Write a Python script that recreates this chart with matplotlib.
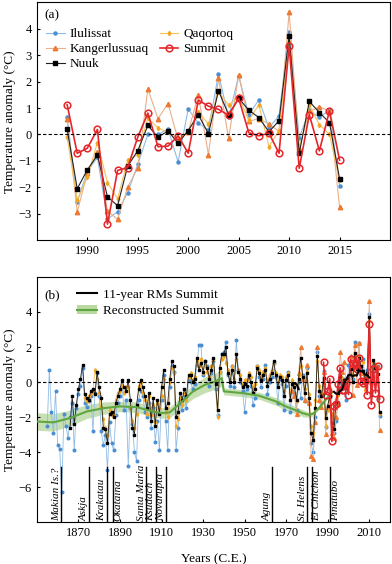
import numpy as np
import matplotlib
matplotlib.use("Agg")
import matplotlib.pyplot as plt
from matplotlib.patches import Patch
from matplotlib.lines import Line2D

plt.rcParams['font.family'] = ['Liberation Serif', 'DejaVu Serif']
plt.rcParams['font.size'] = 9

# ---- station records (annual temperature anomaly, degC) ----
ilu_start = 1855
ilulissat = [
    -2.5, 0.7, -1.7, -2.9, -0.5,
    -3.6, -3.8, -6.3, -1.8, -2.5, -3.2, -2.0, -1.2, -3.9, -1.5,
    -0.7, -0.2, 0.8, -1.2, -1.4, -1.1, -0.8, -2.8, -0.6, 0.5,
    -0.8, -2.8, -3.6, -3.0, -5.0, -2.3, -3.5, -3.9, -1.9, -1.2,
    -0.8, -0.3, -1.6, -1.0, -4.8, -1.5, -2.4, -4.0, -4.5, -1.0,
    -0.5, -0.8, -1.7, -2.0, -1.2, -2.6, -1.4, -3.4, -2.2, -3.9,
    -1.0, 0.4, -2.2, -3.9, -0.3, 0.9, 0.6, -3.9, -2.6, -1.2,
    -1.6, -0.8, -1.5, 0.1, 0.0, -0.4, -0.1, 1.0, 2.1, 2.1,
    0.4, 1.2, 0.9, -0.2, 0.5, 1.2, -0.4, -1.9, 0.6, 1.6,
    1.7, 2.3, 0.4, -0.2, 0.9, -0.3, 2.4, 0.7, 0.0, -0.5,
    -1.7, -0.4, 0.3, -0.2, -1.3, -0.9, 0.9, 0.3, -0.3, 0.2,
    1.0, -0.7, 0.0, 0.3, 1.1, 0.3, -1.2, 0.2, -0.1, -1.6,
    -0.2, 0.6, -1.7, -0.5, -0.6, -1.6, 0.0, -0.9, 0.4, -1.1,
    0.8, -1.2, -3.5, -4.0, -2.0, 1.7, -0.8, -1.2,
    0.66, -2.55, -1.4, -0.86, -3.2, -2.92, -2.2, -1.13, 0.0, 0.0,
    0.2, -1.04, 0.97, 0.42, 0.18, 2.29, 0.65, 2.22, 0.75, 1.31,
    0.25, 0.71, 3.87, -0.12, 0.91, 0.65, 0.92, -1.93]

nuuk_start = 1866
nuuk = [
    -2.6, -0.8, -2.4, -1.3,
    -0.4, 0.2, 1.0, -0.7, -0.9, -1.0, -0.5, -0.4, -0.7, 0.6,
    -0.3, -0.9, -2.6, -2.7, -3.5, -1.8, -1.7, -2.0, -1.2, -0.8,
    -0.4, 0.1, -0.3, -0.5, 0.1, -1.0, -2.6, -3.0, -1.3, -0.4,
    0.1, -0.3, -0.8, -1.5, -0.6, -2.2, -0.9, -2.5, -1.0, -1.8,
    -0.3, 0.7, -1.5, -1.2, 0.2, 1.2, 0.9, -2.0, -1.7, -0.6,
    -1.0, -0.4, -0.8, 0.4, 0.4, 0.0, 0.2, 1.4, 0.7, 1.1,
    0.6, 1.2, 0.8, 0.2, 0.7, 1.4, -0.1, -1.6, 0.8, 1.6,
    1.6, 2.0, 0.5, 0.0, 0.7, 0.0, 1.6, 0.6, 0.2, -0.3,
    -0.1, -0.2, 0.4, 0.0, -0.6, -0.4, 0.8, 0.5, 0.1, 0.4,
    0.7, -0.2, 0.2, 0.5, 1.2, 0.4, -0.3, 0.3, 0.1, -0.8,
    0.1, 0.4, -1.0, -0.1, -0.3, -1.0, 0.2, 1.4, 0.3, -0.6,
    0.5, -0.9, -2.9, -3.3, -1.5, 1.5, -0.5, -0.8,
    0.21, -2.05, -1.34, -0.78, -2.36, -2.69, -1.2, -0.61, 0.34, -0.1,
    0.13, -0.33, 0.15, 0.75, 0.03, 1.65, 0.75, 1.37, 0.92, 0.64,
    0.1, 0.52, 3.72, -0.71, 1.25, 0.83, 0.45, -1.68]

qaq_start = 1873
qaqortoq = [
    -0.9, -1.1, -0.8, -0.6, -0.5, 0.7, 0.2,
    -0.6, -1.4, -2.1, -2.6, -3.0, -1.6, -1.9, -1.9, -1.0, -0.6,
    -0.5, -0.2, -0.6, -0.3, -0.3, -1.4, -2.2, -2.6, -1.8, -0.2,
    0.0, -0.6, -1.0, -1.8, -0.8, -1.9, -1.3, -2.3, -1.2, -1.5,
    -0.8, 0.2, -1.7, -2.0, 0.0, 0.8, 0.5, -2.5, -2.1, -0.9,
    -1.3, -0.6, -1.0, 0.3, 0.5, 0.1, 0.3, 1.2, 0.9, 1.3,
    0.5, 1.0, 0.6, 0.3, 0.9, 1.3, 0.0, -2.0, 0.6, 1.3,
    1.5, 1.1, 0.7, 0.2, 0.9, 0.2, 1.3, 0.7, 0.4, -0.1,
    0.1, 0.1, 0.5, 0.3, -0.3, -0.1, 0.9, 0.7, 0.3, 0.6,
    0.8, 0.1, 0.4, 0.7, 1.1, 0.5, 0.0, 0.4, 0.3, -0.5,
    0.3, 0.5, -0.6, 0.1, -0.1, -1.1, 0.4, 0.9, 0.3, -0.4,
    0.6, -0.7, -2.5, -2.9, -1.0, 1.2, -0.2, -0.6,
    -0.1, -2.49, -1.62, -0.31, -1.82, -2.43, -0.97, -0.76, 0.62, 0.25,
    0.08, -0.17, 0.1, 0.84, 0.4, 1.6, 1.12, 1.44, 0.54, 1.12,
    -0.46, 0.15, 3.5, -0.6, 1.12, 0.37, 0.0, -1.74]

kan_start = 1973
kangerlussuaq = [
    -0.5, -0.8, -1.8, 0.5, 2.0, 0.2, -1.0,
    1.0, -1.2, -4.2, -4.4, -2.3, 2.0, -1.0, -1.4,
    0.57, -2.94, -1.45, -0.67, -2.89, -3.21, -1.99, -1.26, 1.72, 0.6,
    1.17, -0.2, 0.1, 1.49, -0.76, 2.12, -0.14, 2.25, 0.5, 0.6,
    0.4, 0.12, 4.62, -0.5, 0.87, 1.05, 0.88, -2.74]

sum_start = 1988
summit = [
    1.13, -0.71, -0.52, 0.19, -3.39, -1.36, -1.25, -0.1, 0.81, -0.46,
    -0.44, -0.05, -0.71, 1.3, 1.07, 0.95, 0.73, 1.37, 0.07, -0.05,
    0.05, -0.71, 3.34, -1.28, 0.75, -0.62, 0.9, -0.97]

# short running-mean piece seen around the 1970s
rm_early_years = [1973, 1974, 1975, 1976]
rm_early = [-0.05, -0.08, -0.12, -0.4]

# reconstructed Summit temperature and its uncertainty half-width
rec_years = [1850, 1858, 1866, 1874, 1882, 1890, 1898, 1906, 1910, 1914,
             1920, 1925, 1931, 1935, 1939, 1940, 1949, 1957, 1965, 1969,
             1974, 1978, 1981, 1983, 1986, 1989, 1992]
rec_vals = [-2.25, -2.3, -2.05, -1.68, -1.49, -1.39, -1.43, -1.68, -1.77, -1.73,
            -1.1, -0.55, -0.15, 0.0, 0.22, -0.53, -0.63, -0.78, -1.1, -1.35,
            -1.58, -1.78, -1.87, -1.8, -1.45, -1.0, -0.59]
rec_err = [0.5, 0.5, 0.45, 0.4, 0.35, 0.3, 0.3, 0.3, 0.3, 0.3,
           0.35, 0.4, 0.45, 0.45, 0.45, 0.2, 0.2, 0.2, 0.22, 0.22,
           0.2, 0.2, 0.15, 0.12, 0.1, 0.08, 0.05]

volcanoes = ["Makian Is.?", "Askja", "Krakatau", "Okataina", "Santa Maria",
             "Ksudach", "Novarupta", "Agung", "St. Helens", "El Chichon", "Pinatubo"]
volcano_years = [1861.7, 1875.3, 1883.6, 1886.5, 1902.5, 1907.3, 1912.0,
                 1963.3, 1980.0, 1982.4, 1991.3]
label_right = [False, False, False, True, False, False, False,
               False, False, True, True]

# ---- styles ----
series = [
    ("Ilulissat", ilu_start, ilulissat, dict(color='#8fbbe3', mfc='#4b8fd2', mec='#4b8fd2', marker='o', ms=2.2)),
    ("Kangerlussuaq", kan_start, kangerlussuaq, dict(color='#e9b08a', mfc='#ec7a32', mec='#ec7a32', marker='^', ms=3.2)),
    ("Qaqortoq", qaq_start, qaqortoq, dict(color='#f6c25a', mfc='#f4a522', mec='#f4a522', marker='d', ms=2.2)),
    ("Nuuk", nuuk_start, nuuk, dict(color='#222222', mfc='black', mec='black', marker='s', ms=2.4)),
]
summit_style = dict(color='#e5262b', marker='o', ms=4.8, mfc='none', mec='#e5262b', mew=1.1, lw=1.2)

fig = plt.figure(figsize=(3.92, 5.64), dpi=100)
axa = fig.add_axes([0.094, 0.574, 0.901, 0.422])
axb = fig.add_axes([0.094, 0.074, 0.901, 0.435])

# ---- panel (a) ----
handles = {}
for name, start, vals, st in series:
    yrs = np.arange(start, start + len(vals))
    m = yrs >= 1988
    h, = axa.plot(yrs[m], np.array(vals)[m], lw=0.8, **st)
    handles[name] = h
yrs_s = np.arange(sum_start, sum_start + len(summit))
hs, = axa.plot(yrs_s, summit, **summit_style)
handles["Summit"] = hs
axa.axhline(0, color='black', ls='--', lw=0.8, dashes=(3, 2))
axa.set_xlim(1985, 2020)
axa.set_ylim(-4, 5)
axa.set_xticks([1990, 1995, 2000, 2005, 2010, 2015])
axa.set_yticks([-3, -2, -1, 0, 1, 2, 3, 4])
axa.set_ylabel("Temperature anomaly (\u00b0C)", fontsize=9.5, labelpad=2)
axa.tick_params(direction='in', length=2.5, labelsize=9)
axa.text(0.02, 0.945, "(a)", transform=axa.transAxes, fontsize=9.5, va='center')
order = ["Ilulissat", "Kangerlussuaq", "Nuuk", "Qaqortoq", "Summit"]
axa.legend([handles[k] for k in order], order, ncol=2, loc='upper left',
           bbox_to_anchor=(0.0, 0.93), frameon=False, fontsize=9.5,
           handlelength=1.4, handletextpad=0.4, columnspacing=0.8,
           labelspacing=0.2, borderaxespad=0.3)

# ---- panel (b) ----
axb.fill_between(rec_years, np.array(rec_vals) - np.array(rec_err),
                 np.array(rec_vals) + np.array(rec_err),
                 color='#b9d9a0', alpha=0.8, lw=0, zorder=1)
for name, start, vals, st in series:
    yrs = np.arange(start, start + len(vals))
    st2 = dict(st)
    st2['ms'] = st['ms'] * 0.85
    axb.plot(yrs, vals, lw=0.6, zorder=2, **st2)
axb.plot(rec_years, rec_vals, color='#5fa640', lw=1.5, zorder=3)
axb.plot(yrs_s, summit, zorder=4, **summit_style)
rm = np.convolve(summit, np.ones(11) / 11, mode='valid')
rm_years = yrs_s[5:5 + len(rm)]
axb.plot(rm_years, rm, color='black', lw=1.5, zorder=5)
axb.plot(rm_early_years, rm_early, color='black', lw=1.5, zorder=5)
axb.axhline(0, color='black', ls='--', lw=0.8, dashes=(3, 2), zorder=6)

for name, yr, right in zip(volcanoes, volcano_years, label_right):
    axb.plot([yr, yr], [-8, -4.85], color='black', lw=1.0, zorder=6)
    if right:
        axb.text(yr + 0.3, -7.9, name, rotation=90, ha='left', va='bottom',
                 fontsize=8, style='italic')
    else:
        axb.text(yr - 0.2, -7.9, name, rotation=90, ha='right', va='bottom',
                 fontsize=8, style='italic')

axb.set_xlim(1850, 2020)
axb.set_ylim(-8, 6)
axb.set_xticks(np.arange(1870, 2011, 20))
axb.set_yticks([-6, -4, -2, 0, 2, 4])
axb.set_ylabel("Temperature anomaly (\u00b0C)", fontsize=9.5, labelpad=2)
axb.set_xlabel("Years (C.E.)", fontsize=9.5, labelpad=10)
axb.tick_params(direction='in', length=2.5, labelsize=9)
axb.text(0.02, 0.927, "(b)", transform=axb.transAxes, fontsize=9.5, va='center')
leg_h = [Line2D([0], [0], color='black', lw=1.5),
         (Patch(facecolor='#b9d9a0', edgecolor='none'), Line2D([0], [0], color='#5fa640', lw=1.5))]
axb.legend(leg_h, ["11-year RMs Summit", "Reconstructed Summit"], loc='upper left',
           bbox_to_anchor=(0.08, 1.0), frameon=False, fontsize=9.5,
           handlelength=1.5, handletextpad=0.5, labelspacing=0.3)

fig.savefig("out.png", dpi=100)
